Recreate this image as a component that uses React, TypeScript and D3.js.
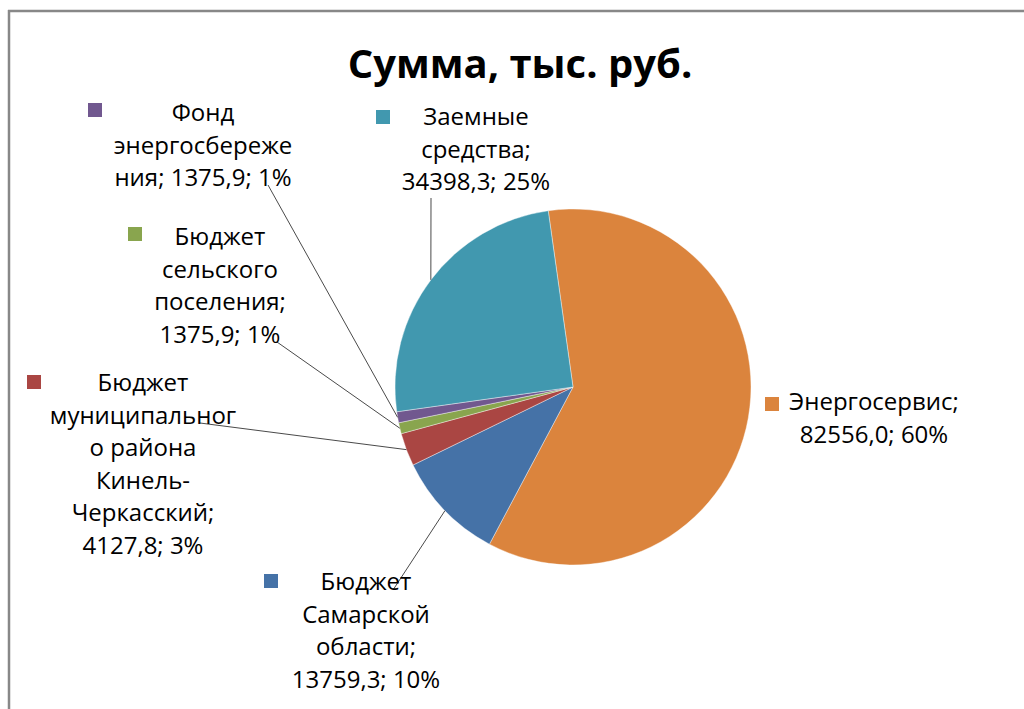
import React, { useEffect, useRef } from 'react';
import * as d3 from 'd3';

// categories in drawing order (clockwise from the first slice)
const categories = [
  'Энергосервис',
  'Бюджет Самарской области',
  'Бюджет муниципального района Кинель-Черкасский',
  'Бюджет сельского поселения',
  'Фонд энергосбережения',
  'Заемные средства',
];
const values = [82556.0, 13759.3, 4127.8, 1375.9, 1375.9, 34398.3];
const colors = ['#DB843D', '#4572A7', '#AA4643', '#89A54E', '#71588F', '#4198AF'];

// how the data labels wrap ({v} = value, {p} = percent)
const labelLines = [
  ['Энергосервис;', '{v}; {p}'],
  ['Бюджет', 'Самарской', 'области;', '{v}; {p}'],
  ['Бюджет', 'муниципальног', 'о района', 'Кинель-', 'Черкасский;', '{v}; {p}'],
  ['Бюджет', 'сельского', 'поселения;', '{v}; {p}'],
  ['Фонд', 'энергосбереже', 'ния; {v}; {p}'],
  ['Заемные', 'средства;', '{v}; {p}'],
];

// label placement: text centre x, first baseline, marker top-left, leader start (or null)
const labelPos = [
  { cx: 874, y0: 410, mx: 765, my: 397, lx: null, ly: null },
  { cx: 366, y0: 590, mx: 264, my: 574, lx: 393, ly: 590 },
  { cx: 143, y0: 391, mx: 27, my: 375, lx: 200, ly: 423 },
  { cx: 220, y0: 245, mx: 128, my: 227, lx: 277, ly: 342 },
  { cx: 203, y0: 121, mx: 88, my: 103, lx: 268, ly: 185 },
  { cx: 476, y0: 125, mx: 376, my: 110, lx: 431, ly: 198 },
];

const W = 1024;
const H = 709;
const FONT = '"Open Sans", "DejaVu Sans", sans-serif';

const App = () => {
  const svgRef = useRef(null);

  useEffect(() => {
    if (!svgRef.current) return;
    const svg = d3.select(svgRef.current);
    svg.selectAll('*').remove();

    // frame (top and left edges visible)
    svg.append('line').attr('x1', 8).attr('x2', W).attr('y1', 11).attr('y2', 11)
      .attr('stroke', '#888').attr('stroke-width', 2.5);
    svg.append('line').attr('x1', 9).attr('x2', 9).attr('y1', 10).attr('y2', H)
      .attr('stroke', '#888').attr('stroke-width', 2.5);

    svg.append('text')
      .attr('x', 520).attr('y', 78)
      .attr('text-anchor', 'middle')
      .attr('font-family', FONT).attr('font-weight', 700).attr('font-size', 40)
      .attr('fill', '#000')
      .text('Сумма, тыс. руб.');

    const cx = 573, cy = 387, r = 178;
    const start = (-8 * Math.PI) / 180;
    const total = d3.sum(values);
    const pie = d3.pie<number>().sort(null).startAngle(start).endAngle(start + 2 * Math.PI);
    const arcs = pie(values);
    const arc = d3.arc<d3.PieArcDatum<number>>().innerRadius(0).outerRadius(r);

    const g = svg.append('g').attr('transform', `translate(${cx},${cy})`);
    g.selectAll('path')
      .data(arcs)
      .join('path')
      .attr('d', arc)
      .attr('fill', (d, i) => colors[i])
      .attr('stroke', '#fff')
      .attr('stroke-width', 0.4);

    const fmt = (v) => v.toFixed(1).replace('.', ',');
    const pct = (v) => Math.round((v / total) * 100) + '%';

    arcs.forEach((d, i) => {
      const p = labelPos[i];
      const mid = (d.startAngle + d.endAngle) / 2;
      if (p.lx !== null) {
        svg.append('line')
          .attr('x1', p.lx).attr('y1', p.ly)
          .attr('x2', cx + r * Math.sin(mid))
          .attr('y2', cy - r * Math.cos(mid))
          .attr('stroke', '#4a4a4a').attr('stroke-width', 1);
      }
      svg.append('rect')
        .attr('x', p.mx).attr('y', p.my).attr('width', 14).attr('height', 14)
        .attr('fill', colors[i]);
      const t = svg.append('text')
        .attr('font-family', FONT).attr('font-size', 24).attr('fill', '#000')
        .attr('text-anchor', 'middle');
      labelLines[i].forEach((ln, k) => {
        t.append('tspan')
          .attr('x', p.cx).attr('y', p.y0 + k * 32.5)
          .text(ln.replace('{v}', fmt(values[i])).replace('{p}', pct(values[i])));
      });
    });
  }, []);

  return (
    <svg
      ref={svgRef}
      width={W}
      height={H}
      style={{ position: 'absolute', left: 0, top: 0, background: '#fff' }}
    />
  );
};

export default App;
